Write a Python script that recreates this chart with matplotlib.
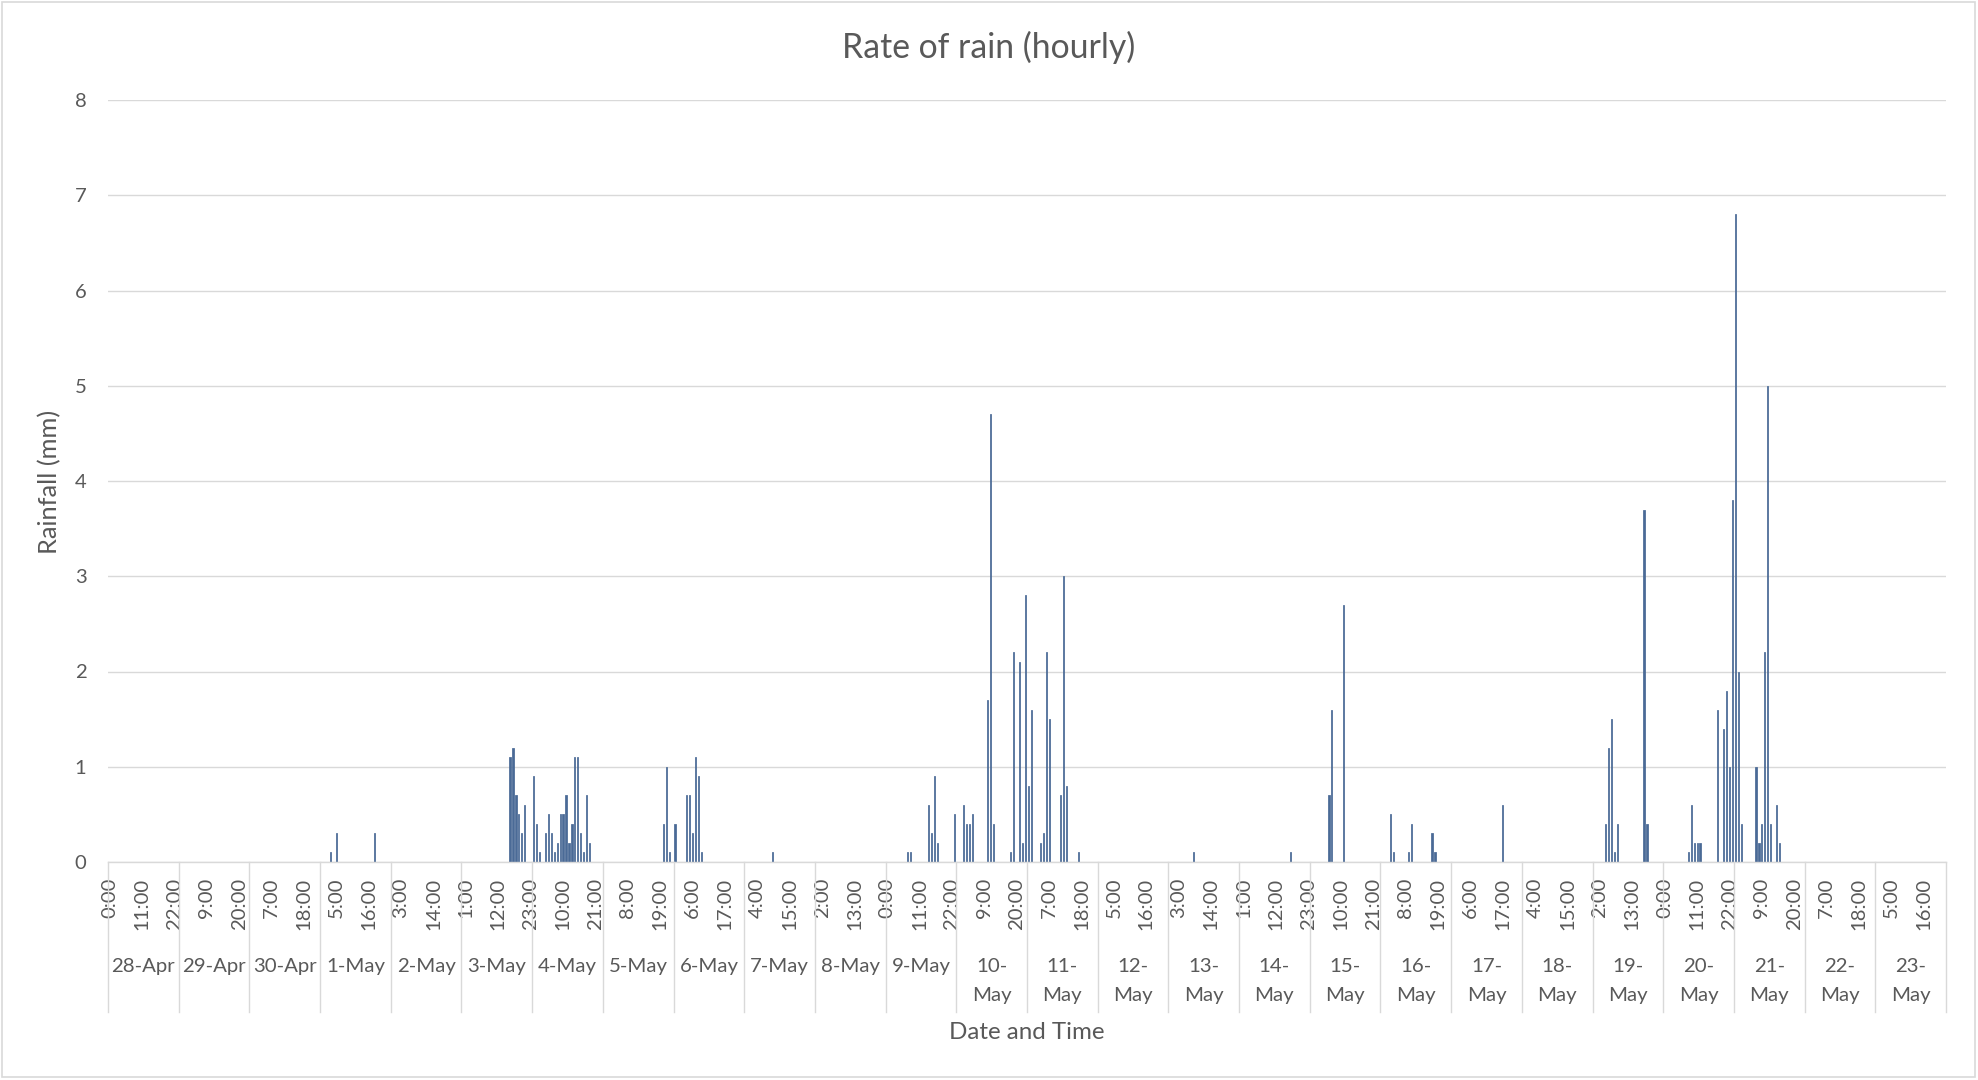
import numpy as np
import pandas as pd
import matplotlib
matplotlib.use('Agg')
import matplotlib.pyplot as plt
from matplotlib.transforms import blended_transform_factory
from matplotlib.patches import Rectangle

# ---------------- data ----------------
START = '2019-04-28 00:00'
N_HOURS = 624  # 28-Apr 0:00 .. 23-May 23:00, hourly categories

rain_times = [
    '05-01 03:00', '05-01 05:00', '05-01 18:00',
    '05-03 16:00', '05-03 17:00', '05-03 18:00', '05-03 19:00', '05-03 20:00', '05-03 21:00',
    '05-04 00:00', '05-04 01:00', '05-04 02:00', '05-04 04:00', '05-04 05:00', '05-04 06:00',
    '05-04 07:00', '05-04 08:00', '05-04 09:00', '05-04 10:00', '05-04 11:00', '05-04 12:00',
    '05-04 13:00', '05-04 14:00', '05-04 15:00', '05-04 16:00', '05-04 17:00', '05-04 18:00',
    '05-04 19:00',
    '05-05 20:00', '05-05 21:00', '05-05 22:00',
    '05-06 00:00', '05-06 04:00', '05-06 05:00', '05-06 06:00', '05-06 07:00', '05-06 08:00',
    '05-06 09:00',
    '05-07 09:00',
    '05-09 07:00', '05-09 08:00', '05-09 14:00', '05-09 15:00', '05-09 16:00', '05-09 17:00',
    '05-09 23:00',
    '05-10 02:00', '05-10 03:00', '05-10 04:00', '05-10 05:00', '05-10 10:00', '05-10 11:00',
    '05-10 12:00', '05-10 18:00', '05-10 19:00', '05-10 21:00', '05-10 22:00', '05-10 23:00',
    '05-11 00:00', '05-11 01:00', '05-11 04:00', '05-11 05:00', '05-11 06:00', '05-11 07:00',
    '05-11 11:00', '05-11 12:00', '05-11 13:00', '05-11 17:00',
    '05-13 08:00',
    '05-14 17:00',
    '05-15 06:00', '05-15 07:00', '05-15 11:00',
    '05-16 03:00', '05-16 04:00', '05-16 09:00', '05-16 10:00', '05-16 17:00', '05-16 18:00',
    '05-17 17:00',
    '05-19 04:00', '05-19 05:00', '05-19 06:00', '05-19 07:00', '05-19 08:00', '05-19 17:00',
    '05-19 18:00',
    '05-20 08:00', '05-20 09:00', '05-20 10:00', '05-20 11:00', '05-20 12:00', '05-20 18:00',
    '05-20 20:00', '05-20 21:00', '05-20 22:00', '05-20 23:00',
    '05-21 00:00', '05-21 01:00', '05-21 02:00', '05-21 07:00', '05-21 08:00', '05-21 09:00',
    '05-21 10:00', '05-21 11:00', '05-21 12:00', '05-21 14:00', '05-21 15:00',
]
rain_mm = [
    0.1, 0.3, 0.3,
    1.1, 1.2, 0.7, 0.5, 0.3, 0.6,
    0.9, 0.4, 0.1, 0.3, 0.5, 0.3,
    0.1, 0.2, 0.5, 0.5, 0.7, 0.2,
    0.4, 1.1, 1.1, 0.3, 0.1, 0.7,
    0.2,
    0.4, 1.0, 0.1,
    0.4, 0.7, 0.7, 0.3, 1.1, 0.9,
    0.1,
    0.1,
    0.1, 0.1, 0.6, 0.3, 0.9, 0.2,
    0.5,
    0.6, 0.4, 0.4, 0.5, 1.7, 4.7,
    0.4, 0.1, 2.2, 2.1, 0.2, 2.8,
    0.8, 1.6, 0.2, 0.3, 2.2, 1.5,
    0.7, 3.0, 0.8, 0.1,
    0.1,
    0.1,
    0.7, 1.6, 2.7,
    0.5, 0.1, 0.1, 0.4, 0.3, 0.1,
    0.6,
    0.4, 1.2, 1.5, 0.1, 0.4, 3.7,
    0.4,
    0.1, 0.6, 0.2, 0.2, 0.2, 1.6,
    1.4, 1.8, 1.0, 3.8,
    6.8, 2.0, 0.4, 1.0, 0.2, 0.4,
    2.2, 5.0, 0.4, 0.6, 0.2,
]
y_ticks = [0, 1, 2, 3, 4, 5, 6, 7, 8]
TITLE = 'Rate of rain (hourly)'
X_LABEL = 'Date and Time'
Y_LABEL = 'Rainfall (mm)'
TIME_LABEL_STEP = 11

# ---------------- build series ----------------
hours = pd.date_range(START, periods=N_HOURS, freq='h')
series = pd.Series(0.0, index=hours)
series.loc[pd.to_datetime(['2019-' + t for t in rain_times])] = rain_mm
cat = np.arange(N_HOURS)

# ---------------- figure ----------------
W, H = 1978, 1080
FONT = 'Lato'
GREY_TXT = '#595959'
GRID = '#d9d9d9'
BAR = '#4a6a96'

fig = plt.figure(figsize=(W / 100, H / 100), dpi=100)
fig.patch.set_facecolor('white')
renderer = fig.canvas.get_renderer()


def fx(x):
    return x / W


def fy(y):
    return 1 - y / H


def fit_size(text, target_px, base=20.0):
    t = fig.text(0, 0, text, fontsize=base, family=FONT)
    w = t.get_window_extent(renderer=renderer).width
    t.remove()
    return base * target_px / w


fs_title = fit_size(TITLE, 294)
fs_ylab = fit_size(Y_LABEL, 144)
fs_xlab = fit_size(X_LABEL, 156)
fs_tick = fit_size('22:00', 52)

# day labels
days = pd.date_range(hours[0].normalize(), hours[-1].normalize(), freq='D')
day_labels = [f"{d.day}-{d.strftime('%b')}" for d in days]
fs_day = fit_size(day_labels[0], 64)

L, R, B, T = 108, 1946, 862, 100
ax = fig.add_axes([fx(L), fy(B), fx(R) - fx(L), (B - T) / H])
ax.bar(cat, series.values, width=0.4, color=BAR, edgecolor=BAR,
       linewidth=0.55)
ax.set_xlim(-0.5, N_HOURS - 0.5)
ax.set_ylim(0, 8)
ax.set_yticks(y_ticks)
ax.set_yticklabels([str(v) for v in y_ticks], family=FONT)
ax.yaxis.grid(True, color=GRID, linewidth=1.0)
ax.set_axisbelow(True)
for s in ['top', 'right', 'left']:
    ax.spines[s].set_visible(False)
ax.spines['bottom'].set_color(GRID)
ax.spines['bottom'].set_linewidth(1.0)

tick_idx = cat[::TIME_LABEL_STEP]
ax.set_xticks(tick_idx)
ax.set_xticklabels([f"{hours[i].hour}:00" for i in tick_idx], family=FONT)
ax.tick_params(axis='x', length=0, pad=11.5, labelrotation=90,
               labelsize=fs_tick, labelcolor=GREY_TXT)
ax.tick_params(axis='y', length=0, pad=15.5, labelsize=fs_tick,
               labelcolor=GREY_TXT)

# day separators and labels
trans_sep = blended_transform_factory(ax.transData, ax.transAxes)
sep_depth = (1012 - B) / (B - T)
for d in range(len(days) + 1):
    x = d * 24 - 0.5
    ax.plot([x, x], [0, -sep_depth], transform=trans_sep, color=GRID,
            linewidth=1.0, clip_on=False)

trans_lab = blended_transform_factory(ax.transData, fig.transFigure)
slot_px = 24 * (R - L) / N_HOURS
for d, lab in enumerate(day_labels):
    xc = d * 24 + 11.5
    t = ax.text(xc, fy(972), lab, transform=trans_lab, ha='center',
                va='baseline', fontsize=fs_day, color=GREY_TXT, family=FONT)
    w = t.get_window_extent(renderer=renderer).width
    if w > 0.95 * slot_px:
        first, second = lab.split('-')
        t.set_text(first + '-')
        ax.text(xc, fy(1001), second, transform=trans_lab, ha='center',
                va='baseline', fontsize=fs_day, color=GREY_TXT, family=FONT)

# titles
fig.text(0.5, fy(58), TITLE, ha='center', va='baseline', fontsize=fs_title,
         color=GREY_TXT, family=FONT)
fig.text(fx(1027), fy(1039), X_LABEL, ha='center', va='baseline',
         fontsize=fs_xlab, color=GREY_TXT, family=FONT)
fig.text(fx(50), fy(482), Y_LABEL, ha='center', va='center', rotation=90,
         fontsize=fs_ylab, color=GREY_TXT, family=FONT)

# chart border
fig.patches.append(Rectangle((fx(2), fy(1077)), fx(1973), (1075) / H,
                             transform=fig.transFigure, fill=False,
                             edgecolor=GRID, linewidth=1.2))

fig.savefig('out.png', dpi=100, facecolor='white')
